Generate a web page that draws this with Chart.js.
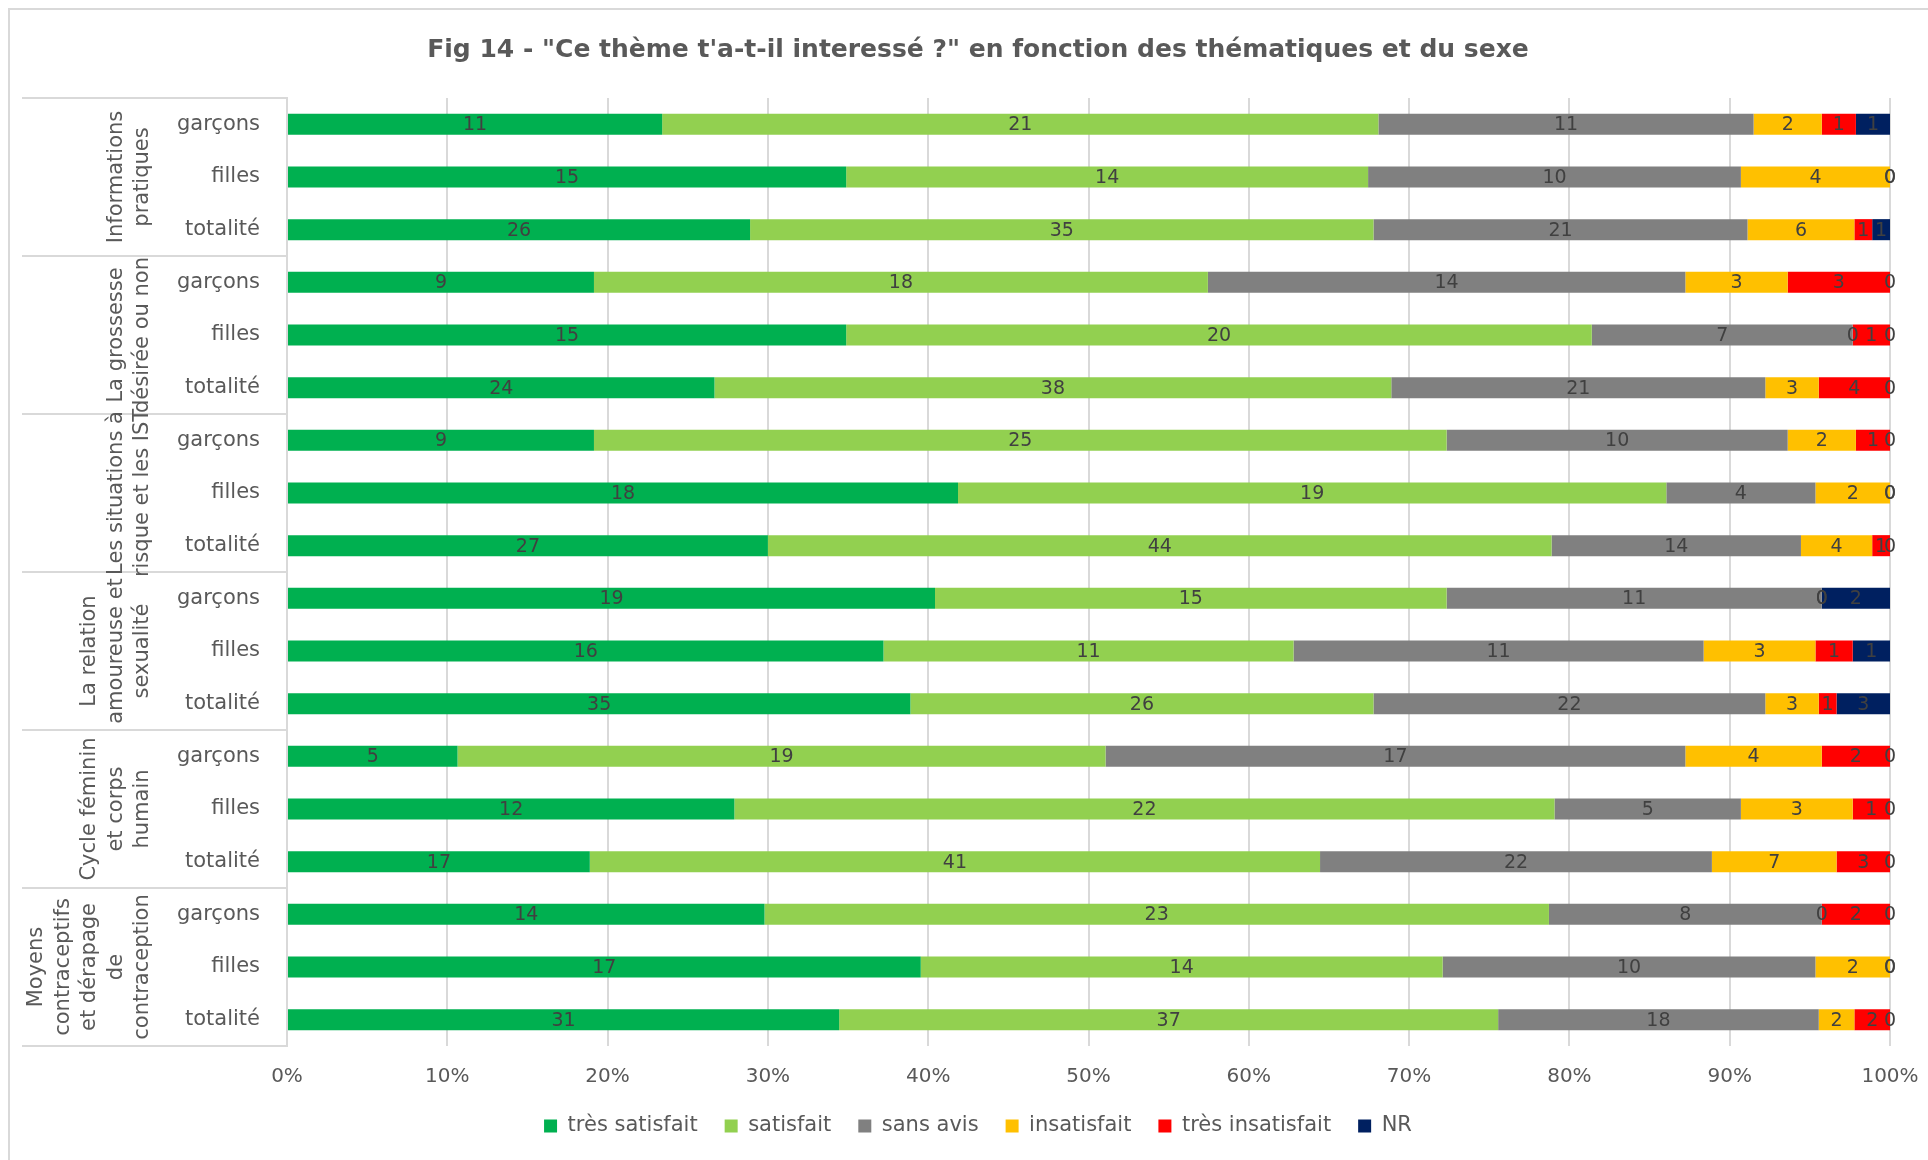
<!DOCTYPE html>
<html>
<head>
<meta charset="utf-8">
<script src="https://cdn.jsdelivr.net/npm/chart.js@4.4.0/dist/chart.umd.min.js"></script>
<style>
html,body{margin:0;padding:0;background:#fff;}
#frame{position:absolute;left:8px;top:8px;width:1940px;height:1170px;border:2px solid #d9d9d9;box-sizing:border-box;}
#wrap{position:absolute;left:0;top:0;width:1928px;height:1160px;}
</style>
</head>
<body>
<div id="frame"></div>
<div id="wrap"><canvas id="c" width="1928" height="1160"></canvas></div>
<script>
// ---- Data ----
const chartTitle = 'Fig 14 - "Ce thème t\'a-t-il interessé ?" en fonction des thématiques et du sexe';
const groupLabels = [
  ["Informations", "pratiques"],
  ["La grossesse", "désirée ou non"],
  ["Les situations à", "risque et les IST"],
  ["La relation", "amoureuse et", "sexualité"],
  ["Cycle féminin", "et corps", "humain"],
  ["Moyens", "contraceptifs", "et dérapage", "de", "contraception"]
];
const rowLabels = ["garçons", "filles", "totalité"];
const seriesLabels = ["très satisfait", "satisfait", "sans avis", "insatisfait", "très insatisfait", "NR"];
const seriesColors = ["#00B050", "#92D050", "#808080", "#FFC000", "#FF0000", "#002060"];

const tresSatisfait   = [11, 15, 26,  9, 15, 24,  9, 18, 27, 19, 16, 35,  5, 12, 17, 14, 17, 31];
const satisfait       = [21, 14, 35, 18, 20, 38, 25, 19, 44, 15, 11, 26, 19, 22, 41, 23, 14, 37];
const sansAvis        = [11, 10, 21, 14,  7, 21, 10,  4, 14, 11, 11, 22, 17,  5, 22,  8, 10, 18];
const insatisfait     = [ 2,  4,  6,  3,  0,  3,  2,  2,  4,  0,  3,  3,  4,  3,  7,  0,  2,  2];
const tresInsatisfait = [ 1,  0,  1,  3,  1,  4,  1,  0,  1,  0,  1,  1,  2,  1,  3,  2,  0,  2];
const nonRepondu      = [ 1,  0,  1,  0,  0,  0,  0,  0,  0,  2,  1,  3,  0,  0,  0,  0,  0,  0];

const xTicks = [0, 10, 20, 30, 40, 50, 60, 70, 80, 90, 100];

// ---- Build ----
const seriesCounts = [tresSatisfait, satisfait, sansAvis, insatisfait, tresInsatisfait, nonRepondu];
const categories = [];
groupLabels.forEach(() => rowLabels.forEach(r => categories.push(r)));
const totals = categories.map((_, i) => seriesCounts.reduce((s, a) => s + a[i], 0));

const datasets = seriesCounts.map((arr, k) => ({
  label: seriesLabels[k],
  data: arr.map((v, i) => v / totals[i] * 100),
  counts: arr,
  backgroundColor: seriesColors[k],
  borderWidth: 0,
  categoryPercentage: 1,
  barPercentage: 0.4
}));

const FONT = '"DejaVu Sans", sans-serif';
const PAD_LEFT = 66;

const valueLabels = {
  id: 'valueLabels',
  afterDatasetsDraw(chart) {
    const ctx = chart.ctx;
    ctx.save();
    ctx.font = '19px ' + FONT;
    ctx.fillStyle = '#404040';
    ctx.textAlign = 'center';
    ctx.textBaseline = 'middle';
    chart.data.datasets.forEach((ds, i) => {
      const meta = chart.getDatasetMeta(i);
      meta.data.forEach((bar, j) => {
        const p = bar.getProps(['x', 'y', 'base'], true);
        ctx.fillText(String(ds.counts[j]), (p.x + p.base) / 2, p.y + 1);
      });
    });
    ctx.restore();
  }
};

const groupAxis = {
  id: 'groupAxis',
  afterDraw(chart) {
    const {ctx, chartArea} = chart;
    const y = chart.scales.y;
    const per = rowLabels.length;
    ctx.save();
    ctx.strokeStyle = '#d9d9d9';
    ctx.lineWidth = 2;
    for (let g = 0; g <= groupLabels.length; g++) {
      let yy;
      if (g === 0) yy = chartArea.top;
      else if (g === groupLabels.length) yy = chartArea.bottom;
      else yy = (y.getPixelForValue(g * per - 1) + y.getPixelForValue(g * per)) / 2;
      ctx.beginPath();
      ctx.moveTo(22, yy);
      ctx.lineTo(chartArea.left, yy);
      ctx.stroke();
    }
    ctx.fillStyle = '#595959';
    ctx.font = '21px ' + FONT;
    ctx.textAlign = 'center';
    ctx.textBaseline = 'middle';
    groupLabels.forEach((lines, g) => {
      const yc = (y.getPixelForValue(g * per) + y.getPixelForValue(g * per + per - 1)) / 2;
      lines.forEach((t, k) => {
        const xc = 143 - (lines.length - 1 - k) * 26.5;
        ctx.save();
        ctx.translate(xc, yc);
        ctx.rotate(-Math.PI / 2);
        ctx.fillText(t, 0, 0);
        ctx.restore();
      });
    });
    ctx.restore();
  }
};

new Chart(document.getElementById('c'), {
  type: 'bar',
  data: { labels: categories, datasets },
  options: {
    indexAxis: 'y',
    responsive: false,
    animation: false,
    devicePixelRatio: 1,
    layout: { padding: { left: PAD_LEFT, right: 38, top: 0, bottom: 13.5 } },
    scales: {
      x: {
        stacked: true,
        min: 0, max: 100,
        afterBuildTicks(scale) { scale.ticks = xTicks.map(v => ({ value: v })); },
        afterFit(scale) { scale.height = 42.5; scale.paddingLeft = 0; scale.paddingRight = 0; },
        grid: { color: '#d9d9d9', lineWidth: 2, drawTicks: false },
        border: { display: false },
        ticks: {
          padding: 19,
          color: '#595959',
          font: { family: FONT, size: 20 },
          callback: v => v + '%'
        }
      },
      y: {
        stacked: true,
        afterFit(scale) { scale.width = 287 - PAD_LEFT; },
        grid: { display: false, drawTicks: false },
        border: { display: true, color: '#d9d9d9', width: 2 },
        ticks: {
          autoSkip: false,
          padding: 27,
          color: '#595959',
          font: { family: FONT, size: 21 }
        }
      }
    },
    plugins: {
      title: {
        display: true,
        text: chartTitle,
        color: '#595959',
        font: { family: FONT, size: 25, weight: 'bold' },
        padding: { top: 35, bottom: 33 }
      },
      legend: {
        position: 'bottom',
        labels: {
          boxWidth: 13,
          boxHeight: 13,
          padding: 27,
          color: '#595959',
          font: { family: FONT, size: 21 }
        }
      },
      tooltip: { enabled: false }
    }
  },
  plugins: [valueLabels, groupAxis]
});
</script>
</body>
</html>
